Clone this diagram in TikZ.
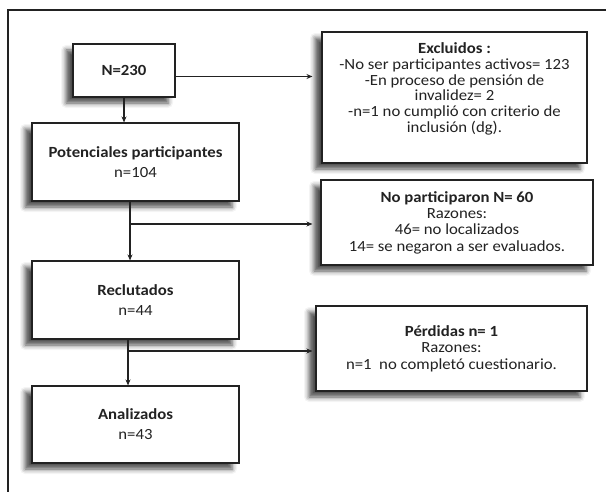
\documentclass[tikz,border=0pt]{standalone}
\usepackage{fontspec}
\setmainfont{Carlito}[FakeStretch=1.08]
\usetikzlibrary{shadows.blur,arrows.meta}
\definecolor{ink}{HTML}{222222}
\tikzset{
  box/.style={draw=ink, line width=1.1pt, fill=white, align=center, inner sep=2pt,
    font=\fontsize{15.5}{16.4}\selectfont, text=ink,
    blur shadow={shadow xshift=-7pt, shadow yshift=-6pt, shadow blur radius=5pt, shadow opacity=70}},
  lbox/.style={box, font=\fontsize{15.5}{20}\selectfont},
  conn/.style={draw=ink, line width=1.1pt},
  arr/.style={conn, -{Stealth[length=6pt,width=5pt]}},
}
\begin{document}
\begin{tikzpicture}[x=1pt,y=-1pt]
\useasboundingbox (0,0) rectangle (606,492);
\draw[ink, line width=2pt] (8,492) -- (8,10) -- (606,10);
% left column
\node[lbox, minimum width=102, minimum height=53] (n230) at (124,70.5) {\textbf{N=230}};
\node[lbox, minimum width=207, minimum height=78] (pot) at (135.5,162) {\textbf{Potenciales participantes}\\n=104};
\node[lbox, minimum width=207, minimum height=78] (rec) at (135.5,300) {\textbf{Reclutados}\\n=44};
\node[lbox, minimum width=207, minimum height=77] (ana) at (135.5,424.5) {\textbf{Analizados}\\n=43};
% right column
\node[box, font=\fontsize{15.5}{15.7}\selectfont, minimum width=265, minimum height=131] (exc) at (454.5,97.5) {\textbf{Excluidos :}\\-No ser participantes activos= 123\\-En proceso de pensión de\\invalidez= 2\\-n=1 no cumplió con criterio de\\inclusión (dg).\\[4pt]};
\node[box, minimum width=272, minimum height=85] (nop) at (457,222.5) {\textbf{No participaron N= 60}\\Razones:\\46= no localizados\\14= se negaron a ser evaluados.};
\node[box, minimum width=271, minimum height=85] (per) at (451.5,348.5) {\textbf{Pérdidas n= 1}\\Razones:\\n=1\ \ no completó cuestionario.};
% connectors
\coordinate (b1) at (130,224);
\coordinate (b2) at (128,351);
\draw[arr] (n230.south) -- (n230.south |- pot.north);
\draw[arr, shorten >=9pt] ([yshift=-6pt]n230.east) -- ([yshift=-6pt]n230.east -| exc.west);
\draw[conn] (pot.south -| b1) -- (b1);
\draw[arr] (b1) -- (b1 |- rec.north);
\draw[arr, shorten >=8pt] (b1) -- (b1 -| nop.west);
\draw[conn] (rec.south -| b2) -- (b2);
\draw[arr] (b2) -- (b2 |- ana.north);
\draw[arr, shorten >=3pt] (b2) -- (b2 -| per.west);
\end{tikzpicture}
\end{document}
